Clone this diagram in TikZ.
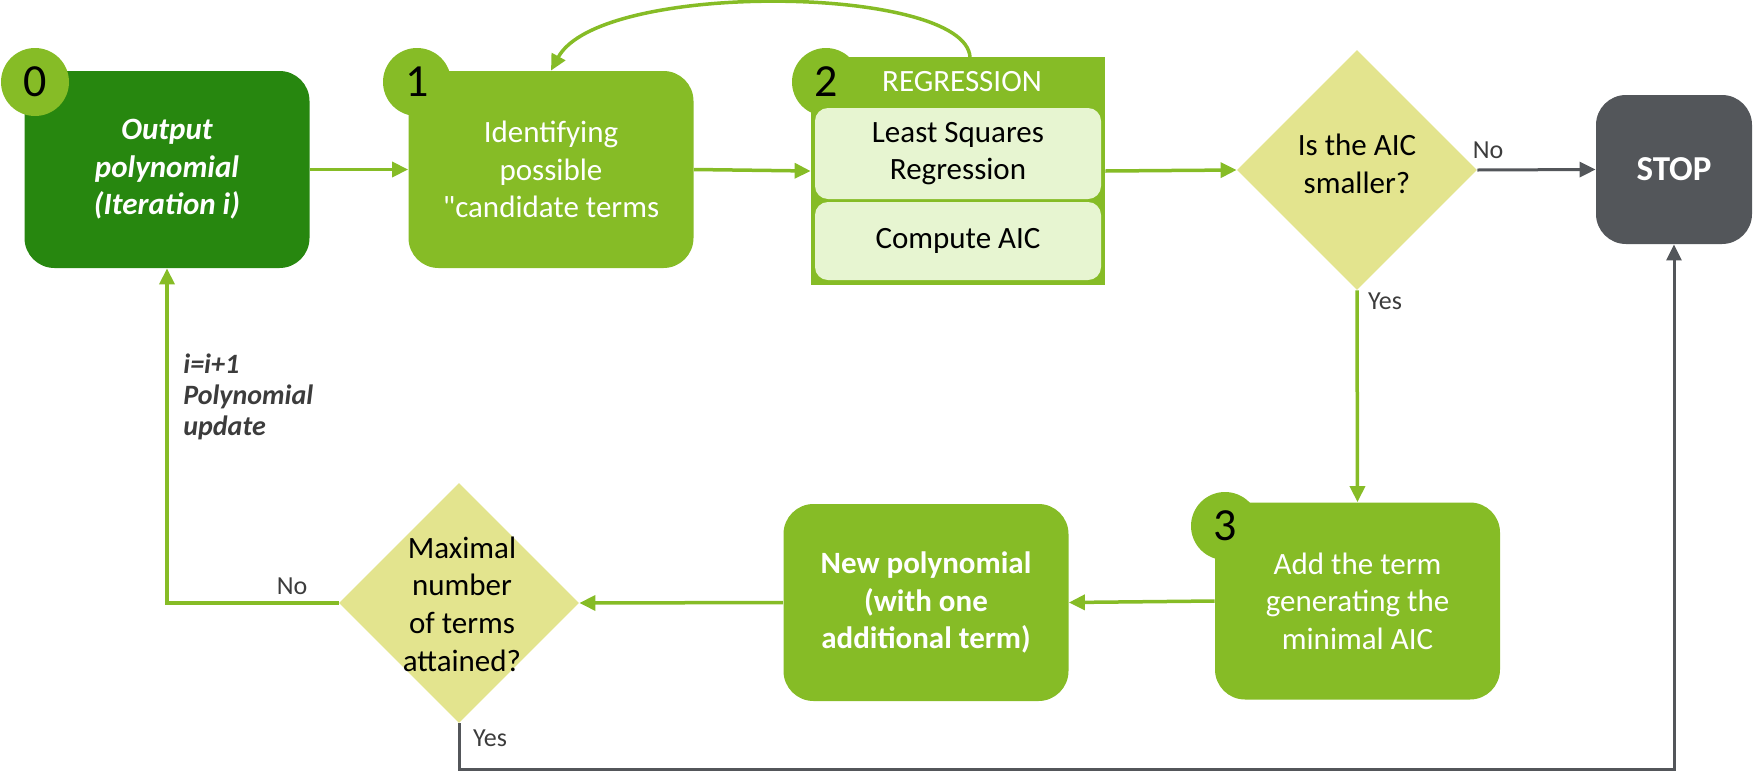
\documentclass[tikz,border=0pt]{standalone}
\usepackage{fontspec}
\setmainfont{Carlito}
\usetikzlibrary{arrows.meta,shapes.geometric}
\definecolor{darkgr}{RGB}{39,135,15}
\definecolor{ligr}{RGB}{134,188,38}
\definecolor{palegr}{RGB}{231,245,209}
\definecolor{khaki}{RGB}{227,228,142}
\definecolor{stopgray}{RGB}{83,86,90}
\definecolor{labgray}{RGB}{60,60,60}

\begin{document}
\begin{tikzpicture}[x=0.5pt,y=-0.5pt,
    box/.style={rounded corners=15pt, minimum width=142.5pt, minimum height=98.5pt, inner sep=0pt,
        align=center, text=white, font=\fontsize{15.5}{18.8}\selectfont},
    inbox/.style={fill=palegr, rounded corners=6.5pt, minimum width=143pt, inner sep=0pt,
        align=center, font=\fontsize{15.5}{18.8}\selectfont},
    badge/.style={circle, fill=ligr, minimum size=34pt, inner sep=0pt, font=\fontsize{23}{23}\selectfont},
    decision/.style={diamond, fill=khaki, minimum width=120pt, minimum height=120pt, inner sep=0pt, aspect=1},
    qtext/.style={align=center, inner sep=0pt, font=\fontsize{15.5}{18.8}\selectfont},
    small/.style={inner sep=0pt, text=labgray, font=\fontsize{13}{15}\selectfont},
    garrow/.style={draw=ligr, line width=1.75pt, -{Triangle[length=8pt,width=7.5pt]}},
    karrow/.style={draw=stopgray, line width=1.5pt, -{Triangle[length=8pt,width=7.5pt]}}]
    \useasboundingbox (0,0) rectangle (1753,772);

    % top row
    \node[box, fill=darkgr, font=\bfseries\itshape\fontsize{15.5}{18.8}\selectfont] (out) at (167,169.5) {Output\\polynomial\\(Iteration i)};
    \node[badge] (b0) at (35,82) {0};
    \node[box, fill=ligr] (cand) at (551,169.5) {Identifying\\possible\\\textquotedbl candidate terms};
    \node[badge] (b1) at (417,82) {1};

    \node[fill=ligr, minimum width=147pt, minimum height=114pt, inner sep=0pt] (reg) at (958,171) {};
    \node[badge] (b2) at (826,82) {2};
    \node[inbox, minimum height=45.5pt] (lsq) at (958,153.5) {Least Squares\\Regression};
    \node[inbox, minimum height=39pt] (aic) at (958,241) {Compute AIC};
    \node[qtext, text=white] (regt) at (962,82) {REGRESSION};

    \node[decision] (q1) at (1357,170) {};
    \node[qtext] (q1t) at (1357,164) {Is the AIC\\smaller?};
    \node[box, fill=stopgray, minimum width=78pt, minimum height=74.5pt, font=\bfseries\fontsize{17.5}{20}\selectfont] (stop) at (1674,169.5) {STOP};

    % bottom row
    \node[box, fill=ligr] (add) at (1357.5,601) {Add the term\\generating the\\minimal AIC};
    \node[badge] (b3) at (1225,526) {3};
    \node[box, fill=ligr, font=\bfseries\fontsize{15.5}{18.8}\selectfont] (newp) at (926,602.5) {New polynomial\\(with one\\additional term)};
    \node[decision] (q2) at (459,603) {};
    \node[qtext] (q2t) at (462,604) {Maximal\\number\\of terms\\attained?};

    % labels
    \node[small] (no1) at (1488,150) {No};
    \node[small] (yes1) at (1385,301) {Yes};
    \node[small] (no2) at (292,586) {No};
    \node[small] (yes2) at (490,738) {Yes};
    \node[anchor=west, align=left, inner sep=0pt, text=labgray, font=\bfseries\itshape\fontsize{14}{15.5}\selectfont] (upd) at (183,397) {i=i+1\\Polynomial\\update};

    \coordinate (loop) at (970,57);
    \coordinate (bend) at (459,769);

    % connectors
    \draw[garrow] (out) -- (cand);
    \draw[garrow] (cand.east) -- (reg.west);
    \draw[garrow] (loop) .. controls (965,-15) and (600,-20) .. (cand.north);
    \draw[garrow] (reg.east) -- (q1.west);
    \draw[karrow] (q1.east) -- (stop.west);
    \draw[garrow] (q1.south) -- (add.north);
    \draw[garrow] (add.west) -- (newp.east);
    \draw[garrow] (newp.west) -- (q2.east);
    \draw[garrow] (q2.west) -| (out.south);
    \draw[karrow] (q2.south) -- (bend) -| (stop.south);
\end{tikzpicture}
\end{document}
